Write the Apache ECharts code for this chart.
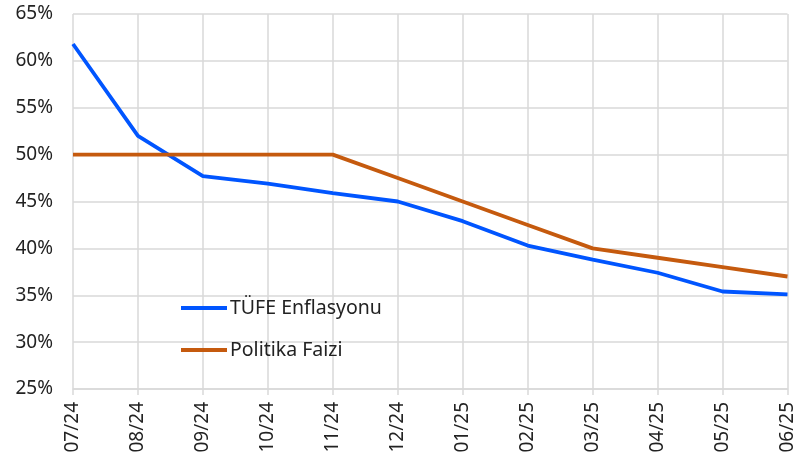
<!DOCTYPE html>
<html><head><meta charset="utf-8">
<script src="https://cdn.jsdelivr.net/npm/echarts@6/dist/echarts.min.js"></script>
<style>html,body{margin:0;padding:0;background:#fff}#c{width:797px;height:467px}</style>
</head><body><div id="c"></div>
<script>
const categories = ['07/24','08/24','09/24','10/24','11/24','12/24','01/25','02/25','03/25','04/25','05/25','06/25'];
const tufe = [61.8, 52.0, 47.7, 46.9, 45.9, 45.0, 42.9, 40.3, 38.8, 37.4, 35.4, 35.1];
const faiz = [50, 50, 50, 50, 50, 47.5, 45, 42.5, 40, 39, 38, 37];
const seriesNames = ['TÜFE Enflasyonu', 'Politika Faizi'];
const chart = echarts.init(document.getElementById('c'));
const font = 'Noto Sans';
chart.setOption({
  animation: false,
  grid: {left: 73, right: 7, top: 14, bottom: 78},
  legend: {
    orient: 'vertical', left: 176, top: 293, itemGap: 22,
    itemWidth: 46, itemHeight: 4,
    icon: 'path://M0,0 L46,0 L46,4 L0,4 Z',
    textStyle: {fontFamily: font, fontSize: 19.5, lineHeight: 20, color: '#222', padding: [0,0,0,-2]},
    data: seriesNames
  },
  xAxis: {
    type: 'category', data: categories, boundaryGap: false,
    axisLine: {lineStyle: {color: '#d9d9d9', width: 1.5}},
    axisTick: {show: true, length: 6, lineStyle: {color: '#d9d9d9', width: 1.5}},
    splitLine: {show: true, lineStyle: {color: '#d9d9d9', width: 1.5}},
    axisLabel: {rotate: 90, fontFamily: font, fontSize: 19, color: '#222', margin: 13}
  },
  yAxis: {
    type: 'value', min: 25, max: 65, interval: 5,
    axisLine: {show: false}, axisTick: {show: false},
    splitLine: {lineStyle: {color: '#d9d9d9', width: 1.5}},
    axisLabel: {formatter: v => v + '%', fontFamily: font, fontSize: 19, color: '#222', margin: 20}
  },
  series: [
    {name: seriesNames[0], type: 'line', data: tufe, symbol: 'none', lineStyle: {color: '#0055ff', width: 3.8}, itemStyle: {color: '#0055ff'}},
    {name: seriesNames[1], type: 'line', data: faiz, symbol: 'none', lineStyle: {color: '#c55a0e', width: 3.8}, itemStyle: {color: '#c55a0e'}}
  ]
});
</script></body></html>
